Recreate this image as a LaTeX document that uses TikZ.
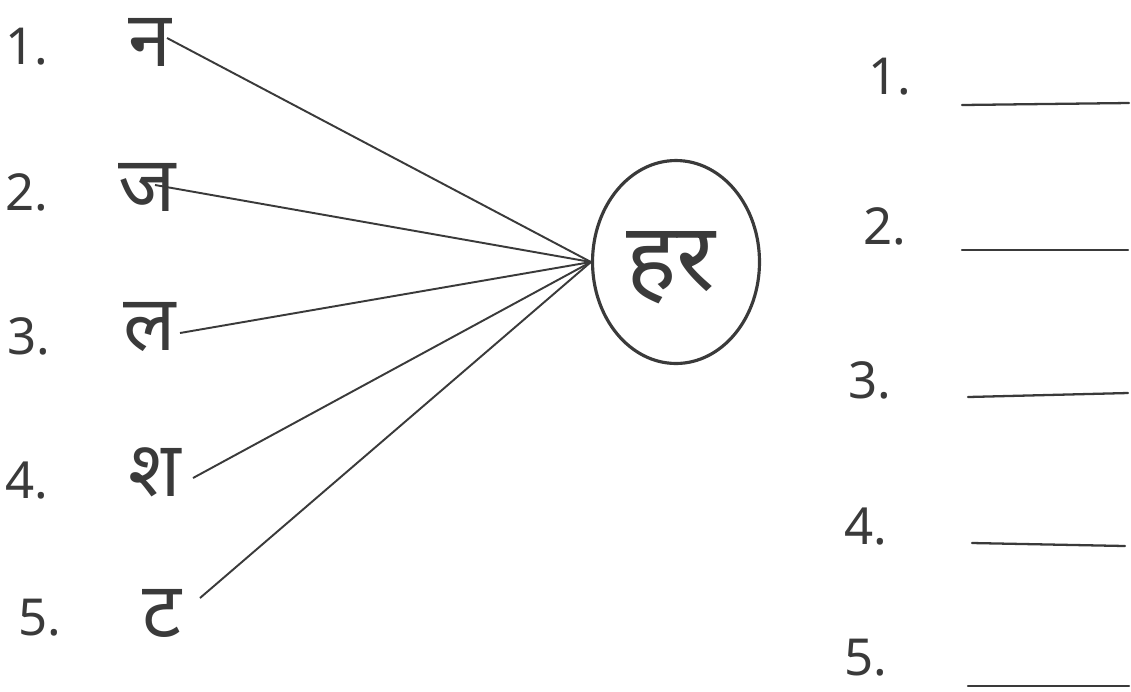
\documentclass[tikz,border=0pt]{standalone}
\usepackage{fontspec}
\usepackage{tikz}
\usetikzlibrary{shapes.geometric}
\newfontfamily\deva[Script=Devanagari]{Noto Sans}
\definecolor{ink}{HTML}{3A3A3A}
\tikzset{num/.style={font=\deva\fontsize{29}{33}\selectfont,text=ink,inner sep=0pt}}
\tikzset{akshar/.style={font=\deva\fontsize{44}{48}\selectfont,text=ink,inner sep=0pt}}
\tikzset{link/.style={draw=ink,line width=1.1pt}}
\tikzset{blank/.style={draw=ink,line width=1.3pt,line cap=round}}

\begin{document}
\begin{tikzpicture}[x=0.02cm,y=-0.02cm]
\useasboundingbox (0,0) rectangle (1131,691);
% left column
\node[num] (la1) at (27,47) {1.};  \node[akshar] (ch1) at (150,42) {न};
\node[num] (la2) at (27,192) {2.}; \node[akshar] (ch2) at (147,187) {ज};
\node[num] (la3) at (29,336) {3.}; \node[akshar] (ch3) at (150,327) {ल};
\node[num] (la4) at (27,481) {4.}; \node[akshar] (ch4) at (155,472) {श};
\node[num] (la5) at (40,618) {5.}; \node[akshar] (ch5) at (162,613) {ट};
% centre
\node[ellipse,draw=ink,line width=1.8pt,minimum width=3.34cm,minimum height=4.06cm] (hub) at (676,262) {};
\node[font=\deva\fontsize{54}{58}\selectfont,text=ink,inner sep=0pt] (word) at (671,268) {हर};
\coordinate (e1) at (167,38); \coordinate (e2) at (155,185);
\coordinate (e3) at (180,333); \coordinate (e4) at (193,478);
\coordinate (e5) at (200,598);
\draw[link] (e1)--(hub.west); \draw[link] (e2)--(hub.west);
\draw[link] (e3)--(hub.west); \draw[link] (e4)--(hub.west);
\draw[link] (e5)--(hub.west);
% right column
\node[num] (rn1) at (890,77) {1.};  \node[num] (rn2) at (885,226) {2.};
\node[num] (rn3) at (870,380) {3.}; \node[num] (rn4) at (866,527) {4.};
\node[num] (rn5) at (866,658) {5.};
\coordinate (b1s) at (962,105); \coordinate (b1e) at (1129,103);
\coordinate (b2s) at (962,250); \coordinate (b2e) at (1128,250);
\coordinate (b3s) at (968,397); \coordinate (b3e) at (1128,393);
\coordinate (b4s) at (972,543); \coordinate (b4e) at (1125,546);
\coordinate (b5s) at (968,686); \coordinate (b5e) at (1129,686);
\draw[blank] (b1s)--(b1e); \draw[blank] (b2s)--(b2e); \draw[blank] (b3s)--(b3e);
\draw[blank] (b4s)--(b4e); \draw[blank] (b5s)--(b5e);
\end{tikzpicture}
\end{document}
